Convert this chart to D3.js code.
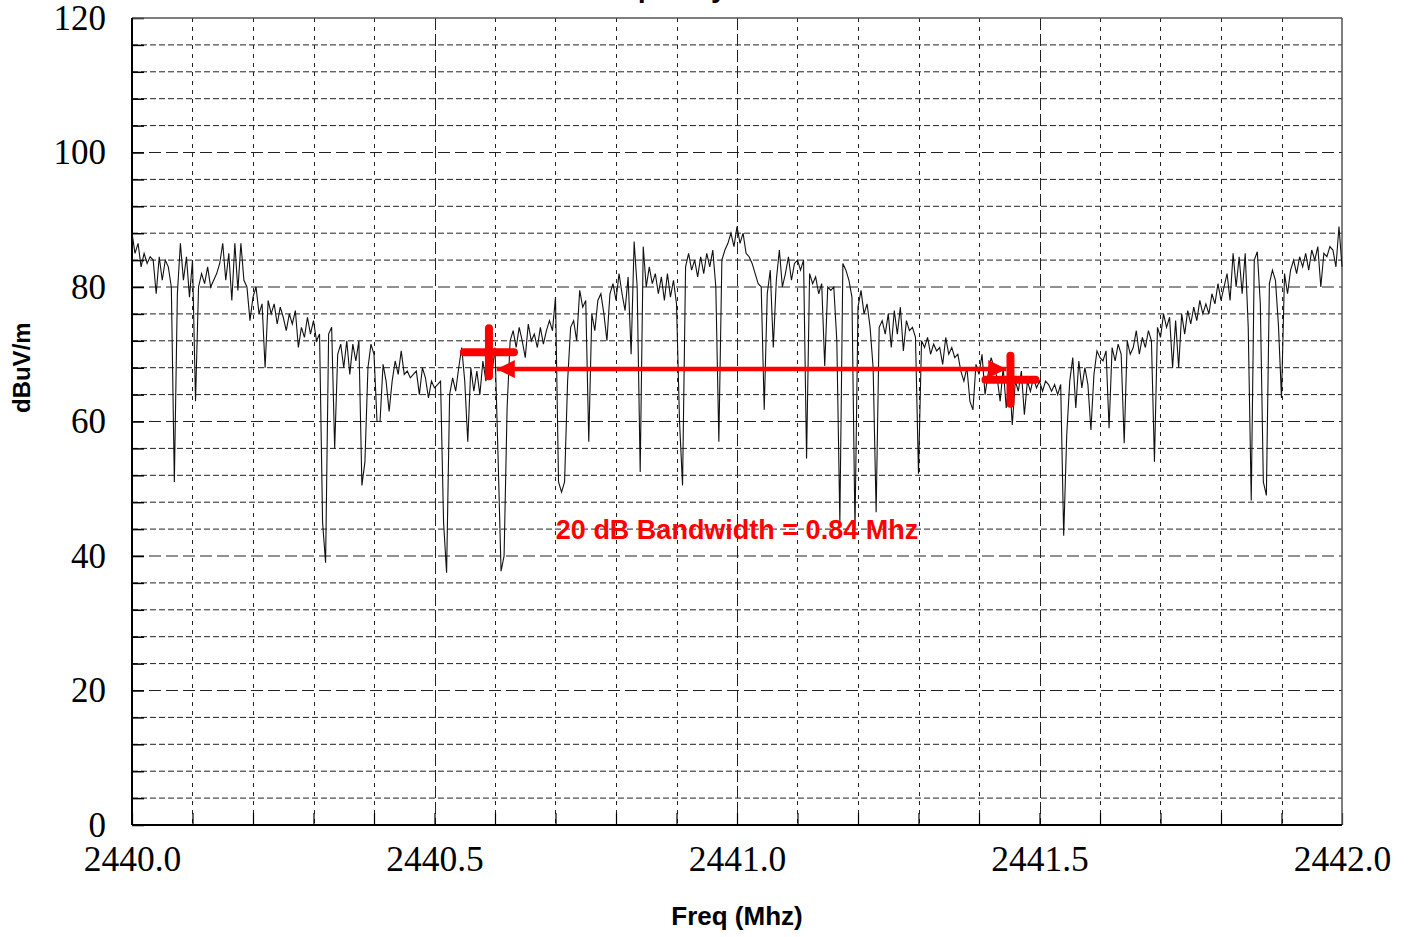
<!DOCTYPE html>
<html>
<head>
<meta charset="utf-8">
<script src="https://cdn.jsdelivr.net/npm/d3@7"></script>
<style>
  body { margin: 0; background: #fff; }
  svg { display: block; }
</style>
</head>
<body>
<svg id="chart" width="1409" height="937"></svg>
<script>
// sweep: 2440.0 .. 2442.0 MHz, 401 points (0.005 MHz step)
var sweepStart = 2440.0,
    sweepStep = 0.005;

var level = [
  88, 85, 86.5, 83, 85, 83.5, 84.5, 84, 79, 84.5,
  81, 84, 83, 80, 51, 79, 86.5, 81, 84.5, 78.5,
  84, 63, 80, 82, 80.5, 83, 80, 81, 82, 83.5,
  86.5, 81, 85, 78, 86.5, 79.5, 86.5, 81, 80, 75,
  78.5, 80, 76, 77.5, 68, 78, 76, 77.5, 74.5, 77,
  75.5, 73.5, 76, 74.5, 76.5, 71, 74, 72.5, 75.5, 73,
  75, 72, 73, 45, 39, 73, 74, 56, 70, 71.5,
  68, 72, 67, 71.5, 69, 72, 50.5, 54, 68, 71.5,
  70, 60, 60, 68.5, 66, 61.5, 66, 69, 67, 70.5,
  67, 67.5, 66.5, 67, 67.5, 64, 68, 66.5, 63.5, 66,
  65, 65.5, 66, 45, 37.5, 64, 66.5, 64.5, 68, 71,
  66, 57, 68, 64.5, 67.5, 64, 69, 66, 70, 67,
  71, 55, 37.75, 40, 62, 72, 73.5, 71, 74, 72,
  69.5, 74.5, 72, 73, 71, 74, 71.5, 73.5, 75, 73.5,
  78.5, 51, 49.5, 51, 66, 74, 75, 72, 79.5, 77,
  78, 57, 76, 73.5, 78, 79, 76, 72, 79, 80.5,
  78, 82, 79, 76.5, 81.5, 70, 86.75, 80, 52.5, 86,
  80, 83, 80.5, 82, 79, 81.5, 78, 82, 78.5, 81,
  77.5, 60, 50.5, 83, 85, 82.5, 84, 81.5, 84.5, 82,
  85, 83, 85.5, 80, 57, 84, 85.5, 86.5, 88, 86,
  89, 86.5, 88, 85, 84.5, 83.5, 82, 80.5, 80, 61.75,
  79, 82.5, 71, 81, 85.5, 80, 82, 84.5, 81, 83.5,
  84, 82.5, 84, 54.5, 82, 80.5, 81.5, 79, 80.5, 68.25,
  80, 79.5, 80, 72, 45, 83.5, 82.5, 81, 78.5, 44,
  77, 79.5, 76, 77.5, 74, 68, 46.5, 74, 75, 73,
  76, 71, 76.5, 73, 77, 70.5, 75, 73.5, 74, 72.5,
  52.25, 72, 71, 72.5, 70, 71.5, 70.5, 71, 68.5, 72.5,
  70, 71, 69.5, 70, 67.5, 66, 68, 63, 61.75, 68.5,
  67, 70, 64, 67, 69.5, 68, 66.5, 63, 68, 62,
  67, 59.5, 66, 64.5, 67.5, 61, 66, 64.5, 66.5, 65,
  66, 64.5, 66, 65.5, 64.5, 65.5, 64, 65.5, 43, 58,
  66, 69.5, 62, 69, 65, 68, 65.5, 58.75, 67, 70.5,
  69.5, 69, 70.5, 59, 71, 69, 71.5, 70, 56.75, 72,
  70, 71, 73.5, 70, 72.5, 71, 73.5, 72, 54, 74,
  72.5, 76, 74, 75.5, 68, 75, 68, 76, 73, 76.5,
  74.5, 77, 75, 78, 76, 77.5, 76, 79, 77.5, 80.5,
  78, 80, 82, 78, 85, 80, 84.5, 79, 85, 74,
  48.25, 84, 85.25, 77.5, 51, 49, 80.5, 82.5, 81, 74.25,
  63.5, 82, 79, 82.5, 84, 82, 84.5, 83, 85, 82.5,
  85.5, 84, 86, 80, 85, 84.5, 86, 85.5, 83, 89,
  83
];

var yTicks = [0, 20, 40, 60, 80, 100, 120];
var xTicks = [2440.0, 2440.5, 2441.0, 2441.5, 2442.0];

// 20 dB bandwidth markers
var markerFreq = [2440.59, 2441.452];
var markerLevel = [70.3, 66.2];
var arrowFreq = [2440.603, 2441.445];
var arrowLevel = 67.8;
var bandwidthLabel = "20 dB Bandwidth = 0.84 Mhz";

var svg = d3.select("#chart"),
    margin = { top: 18, right: 67, bottom: 112, left: 132 },
    width = +svg.attr("width") - margin.left - margin.right,
    height = +svg.attr("height") - margin.top - margin.bottom;

var x = d3.scaleLinear().domain([2440, 2442]).range([0, width]),
    y = d3.scaleLinear().domain([0, 120]).range([height, 0]);

var g = svg.append("g")
    .attr("transform", "translate(" + margin.left + "," + margin.top + ")");

// cut-off title at the top edge
svg.append("text")
    .attr("x", 585)
    .attr("y", -3)
    .attr("font-family", "Liberation Sans, Arial, sans-serif")
    .attr("font-weight", "bold")
    .attr("font-size", 28)
    .text("Frequency");

// grid
var hLines = d3.range(4, 120, 4);
g.selectAll(".hgrid")
    .data(hLines)
    .enter().append("line")
    .attr("x1", 0).attr("x2", width)
    .attr("y1", function (d) { return y(d); })
    .attr("y2", function (d) { return y(d); })
    .attr("stroke", "#222")
    .attr("stroke-width", 1)
    .attr("stroke-dasharray", function (d) { return d % 20 === 0 ? "12,5" : "6,3"; });

var vLines = d3.range(1, 20).map(function (i) { return 2440 + i * 0.1; });
g.selectAll(".vgrid")
    .data(vLines)
    .enter().append("line")
    .attr("y1", 0).attr("y2", height)
    .attr("x1", function (d) { return Math.round(x(d)) + 0.5; })
    .attr("x2", function (d) { return Math.round(x(d)) + 0.5; })
    .attr("stroke", "#222")
    .attr("stroke-width", 1)
    .attr("stroke-dasharray", function (d, i) { return (i + 1) % 5 === 0 ? "12,4" : "4,5"; });

// inner tick marks
g.append("g")
    .call(d3.axisLeft(y).tickValues(d3.range(0, 121, 4)).tickSizeInner(-12).tickSizeOuter(0).tickFormat(""))
    .call(function (a) { a.select(".domain").remove(); a.selectAll("line").attr("stroke", "#000").attr("stroke-width", 1.5); });

g.append("g")
    .attr("transform", "translate(0," + height + ")")
    .call(d3.axisBottom(x).tickValues(d3.range(0, 21).map(function (i) { return 2440 + i * 0.1; })).tickSizeInner(-12).tickSizeOuter(0).tickFormat(""))
    .call(function (a) { a.select(".domain").remove(); a.selectAll("line").attr("stroke", "#000").attr("stroke-width", 1.2); });

// tick labels
g.append("g")
    .call(d3.axisLeft(y).tickValues(yTicks).tickSize(0).tickPadding(26).tickFormat(d3.format("d")))
    .call(function (a) {
        a.select(".domain").remove();
        a.selectAll("text")
            .attr("font-family", "Liberation Serif, Times New Roman, serif")
            .attr("font-size", 35)
            .attr("fill", "#000");
    });

g.append("g")
    .attr("transform", "translate(0," + height + ")")
    .call(d3.axisBottom(x).tickValues(xTicks).tickSize(0).tickPadding(21).tickFormat(d3.format(".1f")))
    .call(function (a) {
        a.select(".domain").remove();
        a.selectAll("text")
            .attr("font-family", "Liberation Serif, Times New Roman, serif")
            .attr("font-size", 35.5)
            .attr("fill", "#000");
    });

// frame
g.append("line").attr("x1", 0).attr("x2", width).attr("y1", 0).attr("y2", 0)
    .attr("stroke", "#555").attr("stroke-width", 1.5);
g.append("line").attr("x1", width).attr("x2", width).attr("y1", 0).attr("y2", height)
    .attr("stroke", "#555").attr("stroke-width", 1.5);
g.append("line").attr("x1", 0).attr("x2", 0).attr("y1", 0).attr("y2", height)
    .attr("stroke", "#000").attr("stroke-width", 2);
g.append("line").attr("x1", 0).attr("x2", width).attr("y1", height).attr("y2", height)
    .attr("stroke", "#000").attr("stroke-width", 2);

// trace
var line = d3.line()
    .x(function (d, i) { return x(sweepStart + i * sweepStep); })
    .y(function (d) { return y(d); });

g.append("path")
    .datum(level)
    .attr("fill", "none")
    .attr("stroke", "#111")
    .attr("stroke-width", 1.1)
    .attr("d", line);

// bandwidth annotation
var red = "#ff0000";
svg.append("defs").selectAll("marker")
    .data(["start", "end"])
    .enter().append("marker")
    .attr("id", function (d) { return "arrow-" + d; })
    .attr("viewBox", "0 0 10 10")
    .attr("refX", 10).attr("refY", 5)
    .attr("markerWidth", 8).attr("markerHeight", 4)
    .attr("markerUnits", "strokeWidth")
    .attr("orient", "auto-start-reverse")
    .append("path")
    .attr("d", "M0,0L10,5L0,10Z")
    .attr("fill", red);

g.append("line")
    .attr("x1", x(arrowFreq[0])).attr("x2", x(arrowFreq[1]))
    .attr("y1", y(arrowLevel)).attr("y2", y(arrowLevel))
    .attr("stroke", red)
    .attr("stroke-width", 4.5)
    .attr("marker-start", "url(#arrow-start)")
    .attr("marker-end", "url(#arrow-end)");

var crosses = g.selectAll(".cross")
    .data(markerFreq)
    .enter().append("g")
    .attr("transform", function (d, i) { return "translate(" + x(d) + "," + y(markerLevel[i]) + ")"; });
crosses.append("line").attr("x1", -25).attr("x2", 25).attr("y1", 0).attr("y2", 0);
crosses.append("line").attr("x1", 0).attr("x2", 0).attr("y1", -24).attr("y2", 24);
crosses.selectAll("line")
    .attr("stroke", red)
    .attr("stroke-width", 8)
    .attr("stroke-linecap", "round");

g.append("text")
    .attr("x", x(2441.0))
    .attr("y", y(42.5))
    .attr("text-anchor", "middle")
    .attr("font-family", "Liberation Sans, Arial, sans-serif")
    .attr("font-weight", "bold")
    .attr("font-size", 27)
    .attr("fill", red)
    .text(bandwidthLabel);

// axis titles
svg.append("text")
    .attr("x", margin.left + width / 2)
    .attr("y", 925)
    .attr("text-anchor", "middle")
    .attr("font-family", "Liberation Sans, Arial, sans-serif")
    .attr("font-weight", "bold")
    .attr("font-size", 26)
    .text("Freq (Mhz)");

svg.append("text")
    .attr("transform", "translate(30," + (margin.top + y(68)) + ") rotate(-90)")
    .attr("text-anchor", "middle")
    .attr("font-family", "Liberation Sans, Arial, sans-serif")
    .attr("font-weight", "bold")
    .attr("font-size", 24)
    .text("dBuV/m");
</script>
</body>
</html>
